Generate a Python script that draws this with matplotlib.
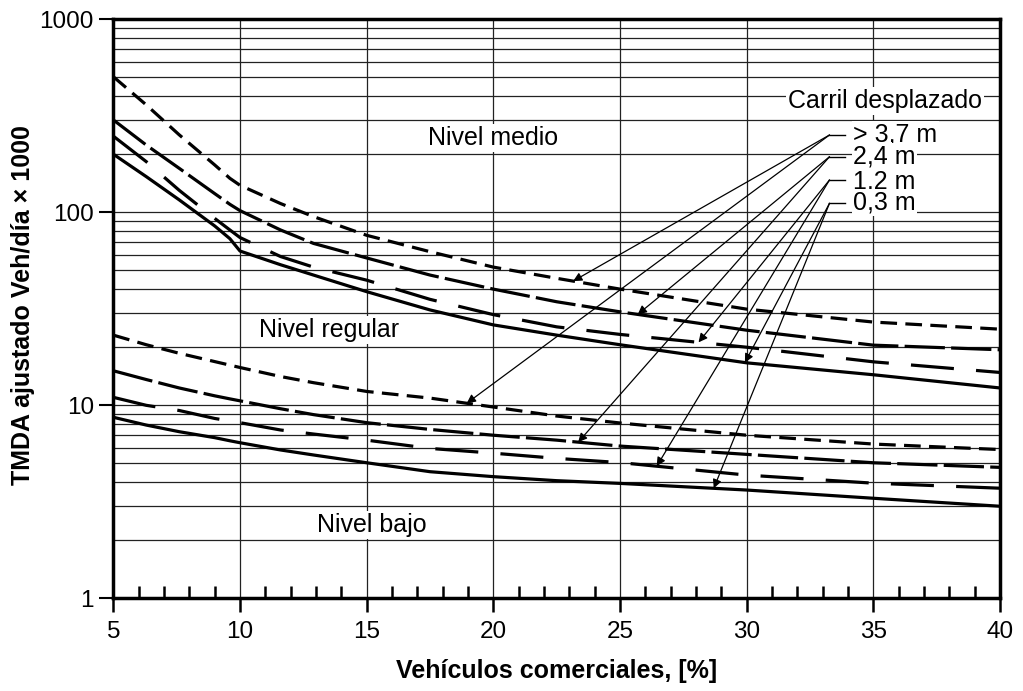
import numpy as np
import matplotlib
matplotlib.use("Agg")
import matplotlib.pyplot as plt
from matplotlib.ticker import FixedLocator, NullFormatter

plt.rcParams["font.family"] = ["Liberation Sans", "DejaVu Sans"]
plt.rcParams["lines.scale_dashes"] = False

# percentage of commercial vehicles
pct = [5, 6.3, 7.6, 9, 9.6, 10, 11.6, 12.9, 15, 17.5, 20, 22.5, 25, 30, 35, 40]

# upper family of curves (limit nivel medio / nivel regular)
up_37 = [504, 360, 252, 176, 150, 138, 111, 95, 76, 62.5, 52, 45.5, 40, 31.5, 27, 24.8]
up_24 = [301, 223, 169, 125, 110, 102, 81, 69, 58, 47.3, 40, 34.4, 30.5, 24.5, 20.5, 19.4]
up_12 = [248, 183, 130, 93, 81, 74, 59, 52, 44.5, 35.4, 29.5, 25.5, 23.3, 20, 16.8, 14.8]
up_03 = [200, 153, 116, 85, 73, 63, 53.5, 47.3, 38.8, 31.2, 26.1, 23.1, 20.6, 16.6, 14.4, 12.3]

# lower family of curves (limit nivel regular / nivel bajo)
lo_37 = [23.1, 20.6, 18.6, 16.85, 16.15, 15.7, 14.1, 13.1, 11.8, 10.9, 9.8, 8.8, 8.1, 7.0, 6.3, 5.9]
lo_24 = [15.1, 13.6, 12.3, 11.2, 10.8, 10.55, 9.6, 8.95, 8.13, 7.5, 7.0, 6.6, 6.15, 5.57, 5.04, 4.77]
lo_12 = [11.0, 10.0, 9.4, 8.55, 8.3, 8.13, 7.45, 7.1, 6.6, 5.98, 5.65, 5.31, 5.05, 4.35, 3.95, 3.72]
lo_03 = [8.67, 7.9, 7.3, 6.8, 6.55, 6.4, 5.87, 5.53, 5.04, 4.53, 4.27, 4.07, 3.94, 3.64, 3.3, 3.0]

offsets = ["> 3,7 m", "2,4 m", "1,2 m", "0,3 m"]
upper = [up_37, up_24, up_12, up_03]
lower = [lo_37, lo_24, lo_12, lo_03]

# where the leader arrows hit each curve (x in %)
tip_upper = [23.15, 25.7, 28.1, 29.93]
tip_lower = [18.95, 23.35, 26.45, 28.7]

# dash patterns in points (scale_dashes off)
styles = [(0, (12, 6)), (0, (29, 4.5)), (0, (31, 16)), "-"]

fig = plt.figure(figsize=(10.23, 6.91), dpi=100)
ax = fig.add_axes([0.1108, 0.1341, 0.8667, 0.8380])
ax.set_yscale("log")
ax.set_xlim(5, 40)
ax.set_ylim(1, 1000)

for ys, ls in zip(upper, styles):
    ax.plot(pct, ys, color="black", lw=2.3, linestyle=ls, zorder=3)
for ys, ls in zip(lower, styles):
    ax.plot(pct, ys, color="black", lw=2.3, linestyle=ls, zorder=3)

# axes / grid
ax.set_xticks([5, 10, 15, 20, 25, 30, 35, 40])
ax.xaxis.set_minor_locator(FixedLocator([i for i in range(6, 40) if i % 5]))
ax.set_yticks([1, 10, 100, 1000])
ax.set_yticklabels(["1", "10", "100", "1000"])
ax.yaxis.set_minor_locator(FixedLocator([m * 10 ** k for k in range(3) for m in range(2, 10)]))
ax.yaxis.set_minor_formatter(NullFormatter())

ax.grid(True, which="major", axis="x", color="#222222", lw=0.9)
ax.grid(True, which="both", axis="y", color="#222222", lw=0.9)
ax.set_axisbelow(True)

ax.tick_params(axis="x", which="major", direction="out", length=10, width=1.8,
               labelsize=17.5, pad=6)
ax.tick_params(axis="x", which="minor", direction="in", length=9, width=1.8)
ax.tick_params(axis="y", which="major", direction="out", length=10, width=1.5,
               labelsize=17.5, pad=4)
ax.tick_params(axis="y", which="minor", length=0)
for sp in ax.spines.values():
    sp.set_linewidth(2.5)

box = dict(facecolor="white", edgecolor="none", pad=1.5)
ax.text(20, 223, "Nivel medio", fontsize=18, ha="center", va="baseline", bbox=box, zorder=2)
ax.text(13.5, 22.5, "Nivel regular", fontsize=18, ha="center", va="baseline", bbox=box, zorder=2)
ax.text(15.2, 2.2, "Nivel bajo", fontsize=18, ha="center", va="baseline", bbox=box, zorder=2)
ax.text(35.46, 348, "Carril desplazado", fontsize=18, ha="center", va="baseline", bbox=box, zorder=2)

# offset labels with leader arrows to both families
label_base = [232, 178, 133, 102.8]
origin_y = [251.5, 194, 147, 111.3]
for i, name in enumerate(offsets):
    ax.text(34.2, label_base[i], name, fontsize=18, ha="left", va="baseline",
            bbox=dict(facecolor="white", edgecolor="none", pad=1.0), zorder=2)
    ax.plot([33.27, 33.9], [origin_y[i], origin_y[i]], color="black", lw=1.0, zorder=4)
    for xt, ys in ((tip_upper[i], upper[i]), (tip_lower[i], lower[i])):
        yt = 10 ** np.interp(xt, pct, np.log10(ys))
        ax.annotate("", xy=(xt, yt), xytext=(33.27, origin_y[i]),
                    arrowprops=dict(arrowstyle="-|>", color="black", lw=0.9,
                                    mutation_scale=13, shrinkA=0, shrinkB=0),
                    zorder=4)

fig.text(23 / 1023, 1 - 305 / 691, "TMDA ajustado Veh/día × 1000", rotation=90,
         fontsize=18, fontweight="bold", ha="center", va="center")
fig.text(556.6 / 1023, 1 - 671 / 691, "Vehículos comerciales, [%]",
         fontsize=18, fontweight="bold", ha="center", va="center")

fig.savefig("out.png", dpi=100, facecolor="white")
